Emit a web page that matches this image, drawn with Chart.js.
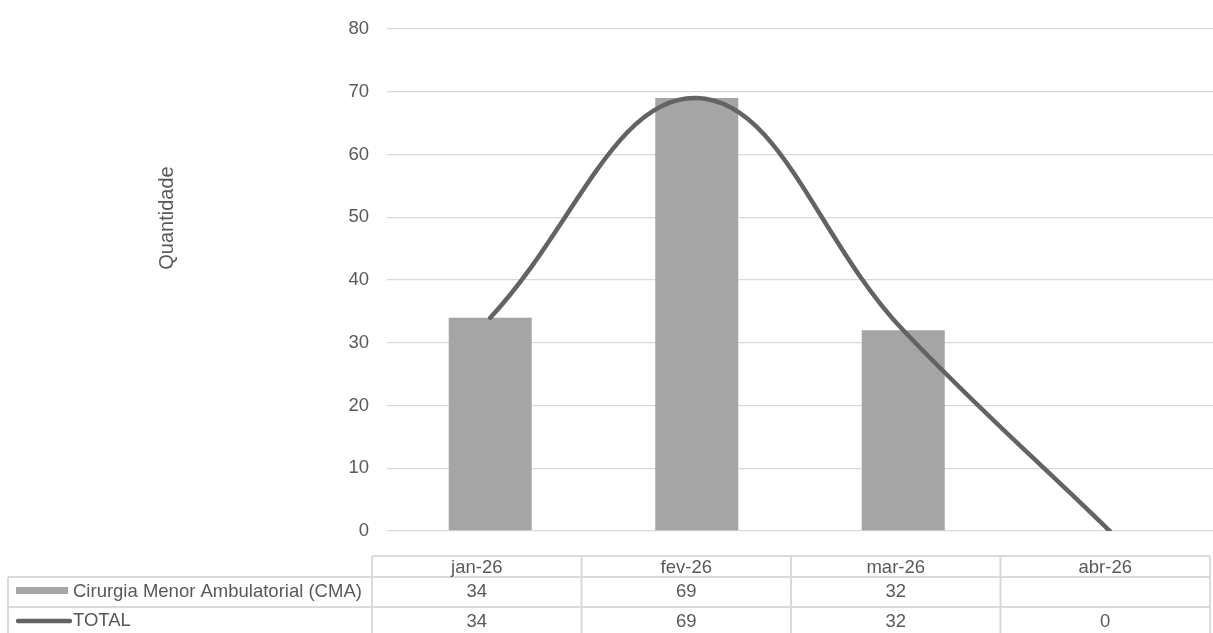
<!DOCTYPE html>
<html>
<head>
	<title>Quantidade CMA</title>
	<script src="https://cdn.jsdelivr.net/npm/chart.js@4.4.0/dist/chart.umd.min.js"></script>
	<meta charset="utf-8"/>
	<style>
		body { margin: 0; background: #fff; }
	</style>
</head>
<body>
    <canvas id="myChart" width="1213" height="633"></canvas>

    <script>
        // data
        var months = ['jan-26', 'fev-26', 'mar-26', 'abr-26'];
        var cma = [34, 69, 32, null];
        var total = [34, 69, 32, 0];
        var seriesNames = ['Cirurgia Menor Ambulatorial (CMA)', 'TOTAL'];
        var yTicks = [0, 80, 10]; // min, max, step
        var yTitle = 'Quantidade';

        var textColor = '#595959';
        var gridColor = '#d9d9d9';
        var barColor = '#a5a5a5';
        var lineColor = '#636363';
        var fontFamily = '"Liberation Sans", Arial, sans-serif';

        // data table under the plot + axis title, drawn on the canvas
        var tablePlugin = {
            id: 'dataTable',
            afterDraw: function (chart) {
                var ctx = chart.ctx;
                var left = 372, right = 1210, labelLeft = 8;
                var rows = [556, 577, 607, 637];
                var colW = (right - left) / months.length;

                ctx.save();
                ctx.strokeStyle = '#dadada';
                ctx.lineWidth = 2;
                ctx.beginPath();
                ctx.moveTo(left, rows[0]); ctx.lineTo(right, rows[0]);
                for (var r = 1; r < rows.length; r++) {
                    ctx.moveTo(labelLeft, rows[r]); ctx.lineTo(right, rows[r]);
                }
                ctx.moveTo(labelLeft, rows[1]); ctx.lineTo(labelLeft, rows[3]);
                for (var c = 0; c <= months.length; c++) {
                    ctx.moveTo(left + c * colW, rows[0]);
                    ctx.lineTo(left + c * colW, rows[3]);
                }
                ctx.stroke();

                ctx.fillStyle = textColor;
                ctx.font = '18.5px ' + fontFamily;
                ctx.textBaseline = 'middle';
                ctx.textAlign = 'center';
                var values = [cma, total];
                for (var i = 0; i < months.length; i++) {
                    var cx = left + colW * (i + 0.5);
                    ctx.fillText(months[i], cx, (rows[0] + rows[1]) / 2 + 1);
                    for (var s = 0; s < values.length; s++) {
                        var v = values[s][i];
                        if (v !== null && v !== undefined) {
                            ctx.fillText(String(v), cx, (rows[s + 1] + rows[s + 2]) / 2);
                        }
                    }
                }

                // legend keys + series names
                ctx.textAlign = 'left';
                ctx.fillStyle = barColor;
                ctx.fillRect(16, 587, 52, 7);
                ctx.strokeStyle = lineColor;
                ctx.lineWidth = 4.5;
                ctx.lineCap = 'round';
                ctx.beginPath();
                ctx.moveTo(18, 621); ctx.lineTo(70, 621);
                ctx.stroke();

                ctx.fillStyle = textColor;
                ctx.fillText(seriesNames[0], 73, (rows[1] + rows[2]) / 2);
                ctx.fillText(seriesNames[1], 73, (rows[2] + rows[3]) / 2 - 1);

                // y axis title sits higher than the plot centre in the original
                ctx.translate(167, 218);
                ctx.rotate(-Math.PI / 2);
                ctx.textAlign = 'center';
                ctx.font = '20px ' + fontFamily;
                ctx.fillText(yTitle, 0, 0);
                ctx.restore();
            }
        };

        var chartdata = {
            labels: months,
            datasets: [
                {
                    type: 'line',
                    label: seriesNames[1],
                    data: total,
                    borderColor: lineColor,
                    backgroundColor: lineColor,
                    borderWidth: 4.5,
                    tension: 0.4,
                    pointRadius: 0,
                    borderCapStyle: 'round',
                    fill: false,
                    order: 0
                },
                {
                    type: 'bar',
                    label: seriesNames[0],
                    data: cma,
                    backgroundColor: barColor,
                    barPercentage: 0.402,
                    categoryPercentage: 1,
                    order: 1
                }
            ]
        };

        var chartTarget = document.getElementById('myChart');

        var mixedChart = new Chart(chartTarget, {
            data: chartdata,
            plugins: [tablePlugin],
            options: {
                responsive: false,
                animation: false,
                layout: {
                    padding: { left: 140, right: 0, top: 19, bottom: 102 }
                },
                plugins: {
                    legend: { display: false },
                    tooltip: { enabled: false }
                },
                scales: {
                    x: {
                        type: 'category',
                        display: false,
                        offset: true
                    },
                    y: {
                        min: yTicks[0],
                        max: yTicks[1],
                        afterFit: function (scale) { scale.width = 387 - 140; },
                        ticks: {
                            stepSize: yTicks[2],
                            color: textColor,
                            padding: 18,
                            font: { family: fontFamily, size: 18.5 }
                        },
                        grid: {
                            color: gridColor,
                            lineWidth: 1.3,
                            drawTicks: false
                        },
                        border: { display: false }
                    }
                }
            }
        });
    </script>

</body>
</html>
